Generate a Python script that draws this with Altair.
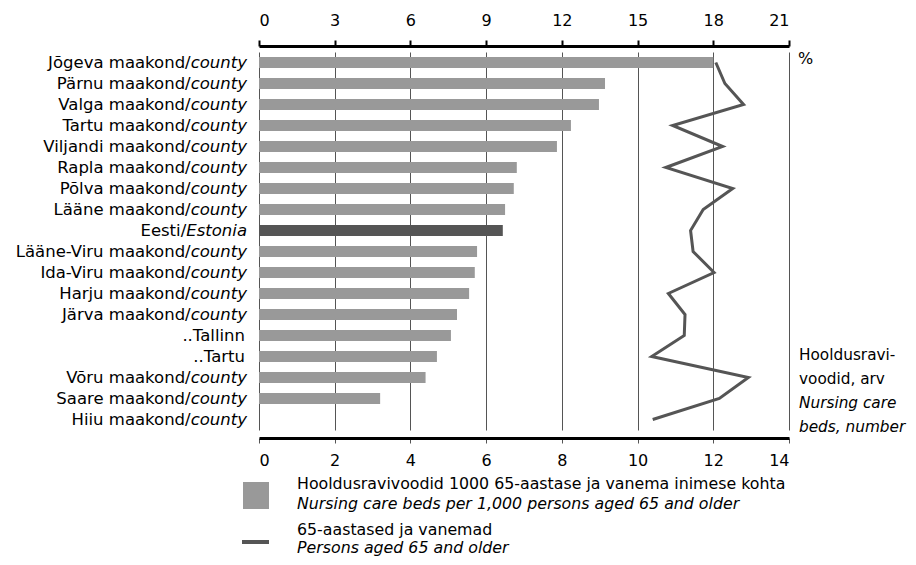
import altair as alt
import pandas as pd

FONT = "DejaVu Sans"
FS = 16

# ---- data ----
names = ["Jõgeva maakond", "Pärnu maakond", "Valga maakond", "Tartu maakond",
         "Viljandi maakond", "Rapla maakond", "Põlva maakond", "Lääne maakond",
         "Eesti", "Lääne-Viru maakond", "Ida-Viru maakond", "Harju maakond",
         "Järva maakond", "..Tallinn", "..Tartu", "Võru maakond",
         "Saare maakond", "Hiiu maakond"]
label_main = ["Jõgeva maakond/", "Pärnu maakond/", "Valga maakond/", "Tartu maakond/",
              "Viljandi maakond/", "Rapla maakond/", "Põlva maakond/", "Lääne maakond/",
              "Eesti/", "Lääne-Viru maakond/", "Ida-Viru maakond/", "Harju maakond/",
              "Järva maakond/", "..Tallinn", "..Tartu", "Võru maakond/",
              "Saare maakond/", "Hiiu maakond/"]
label_ital = ["county", "county", "county", "county", "county", "county", "county", "county",
              "Estonia", "county", "county", "county", "county", "", "", "county",
              "county", "county"]
beds_per_1000 = [12.0, 9.14, 8.98, 8.24, 7.87, 6.81, 6.73, 6.50, 6.44, 5.76, 5.70,
                 5.55, 5.23, 5.07, 4.70, 4.40, 3.20, 0.0]
share_65plus = [18.1, 18.46, 19.2, 16.39, 18.37, 16.12, 18.77, 17.6, 17.1, 17.2, 18.03,
                16.22, 16.88, 16.85, 15.56, 19.39, 18.24, 15.6]

bottom_ticks = [0, 2, 4, 6, 8, 10, 12, 14]
top_ticks = [0, 3, 6, 9, 12, 15, 18, 21]

right_title = ["Hooldusravi-", "voodid, arv", "Nursing care", "beds, number"]
legend_bar = ["Hooldusravivoodid 1000 65-aastase ja vanema inimese kohta",
              "Nursing care beds per 1,000 persons aged 65 and older"]
legend_line = ["65-aastased ja vanemad", "Persons aged 65 and older"]

df = pd.DataFrame({"name": names, "main": label_main, "ital": label_ital,
                   "beds": beds_per_1000, "pct": share_65plus,
                   "idx": list(range(len(names)))})
one = pd.DataFrame({"a": [0]})

# approximate oblique glyph widths (em) for offsetting the upright part
OBL = {"c": .550, "o": .612, "u": .634, "n": .634, "t": .392, "y": .592,
       "E": .632, "s": .521, "i": .278, "a": .613}


def wid(s, fs):
    return sum(OBL.get(ch, .6) for ch in s) * fs


LFS = 16.5
LBL_X = -12

yenc = alt.Y("name:N", sort=names, axis=None,
             scale=alt.Scale(paddingInner=0.48, paddingOuter=0.24))

base = alt.Chart(df)

bars = base.mark_bar().encode(
    x=alt.X("beds:Q", scale=alt.Scale(domain=[0, 14], nice=False),
            axis=alt.Axis(orient="bottom", values=bottom_ticks, offset=8,
                          domainWidth=3, domainColor="black", tickSize=5,
                          tickColor="#555555", tickWidth=1, labelFontSize=FS,
                          labelFont=FONT, labelColor="black", labelPadding=9,
                          grid=False, title=None)),
    y=yenc,
    color=alt.condition("datum.name == 'Eesti'", alt.value("#555555"),
                        alt.value("#999999")),
)

line = base.mark_line(color="#555555", strokeWidth=3).encode(
    x=alt.X("pct:Q", scale=alt.Scale(domain=[0, 21], nice=False),
            axis=alt.Axis(orient="top", values=top_ticks, offset=6,
                          domainWidth=3, domainColor="black", tickSize=6,
                          tickColor="black", tickWidth=2, labelFontSize=FS,
                          labelFont=FONT, labelColor="black", labelPadding=12,
                          grid=True, gridColor="#555555", gridWidth=1,
                          title=None)),
    y=yenc,
    order="idx:Q",
)


def label_layer(filt, xoff):
    return base.transform_filter(filt).mark_text(
        align="right", baseline="middle", font=FONT, fontSize=LFS, color="black"
    ).encode(y=yenc, x=alt.value(xoff), text="main:N")


lab_county = label_layer("datum.ital == 'county'", LBL_X - wid("county", LFS))
lab_est = label_layer("datum.ital == 'Estonia'", LBL_X - wid("Estonia", LFS))
lab_plain = label_layer("datum.ital == ''", LBL_X - 2)
lab_ital = base.transform_filter("datum.ital != ''").mark_text(
    align="right", baseline="middle", font=FONT, fontSize=LFS, fontStyle="italic",
    color="black").encode(y=yenc, x=alt.value(LBL_X), text="ital:N")


def txt(s, x, y, italic=False, fs=FS):
    return alt.Chart(one).mark_text(
        text=s, align="left", baseline="alphabetic", font=FONT, fontSize=fs,
        fontStyle="italic" if italic else "normal", color="black"
    ).encode(x=alt.value(x), y=alt.value(y))


RFS = 15.3
extras = [
    txt("%", 539, 12),
    txt(right_title[0], 540, 308, fs=RFS),
    txt(right_title[1], 540, 332, fs=RFS),
    txt(right_title[2], 540, 356, True, fs=RFS),
    txt(right_title[3], 540, 380, True, fs=RFS),
    txt(legend_bar[0], 38, 437, fs=15.8),
    txt(legend_bar[1], 38, 457, True, fs=15.8),
    txt(legend_line[0], 38, 483, fs=15.8),
    txt(legend_line[1], 38, 501, True, fs=15.8),
]

leg_sq = alt.Chart(one).mark_rect(color="#999999").encode(
    x=alt.value(-16), x2=alt.value(10), y=alt.value(430), y2=alt.value(457))
leg_ln = alt.Chart(one).mark_rule(color="#555555", strokeWidth=4).encode(
    x=alt.value(-17), x2=alt.value(10), y=alt.value(490))

chart = alt.layer(
    bars, line, lab_county, lab_est, lab_plain, lab_ital, leg_sq, leg_ln, *extras
).resolve_scale(x="independent").properties(
    width=530, height=378,
    padding={"left": 251, "top": 44, "right": 119, "bottom": 126},
    autosize=alt.AutoSizeParams(type="none"),
).configure_view(stroke=None)

chart.save("out.html", embed_options={"renderer": "svg", "actions": False})
